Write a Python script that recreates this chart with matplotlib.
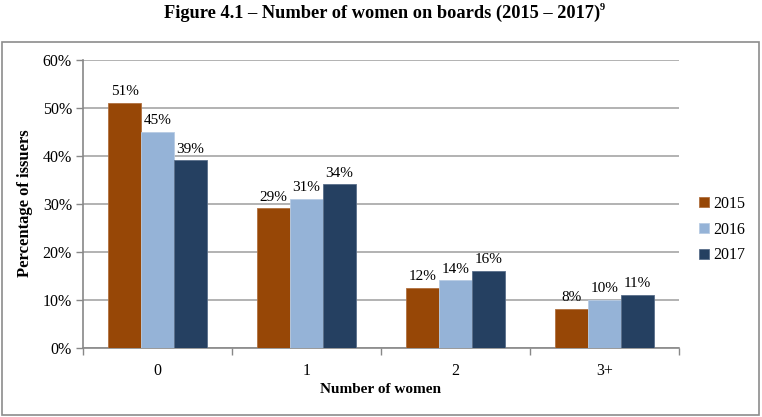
import matplotlib.pyplot as plt
import matplotlib.patches as patches
import numpy as np

categories = ['0', '1', '2', '3+']
years = ['2015', '2016', '2017']
values_2015 = [51, 29, 12.5, 8]
values_2016 = [45, 31, 14, 10]
values_2017 = [39, 34, 16, 11]
labels_2015 = ['51%', '29%', '12%', '8%']
labels_2016 = ['45%', '31%', '14%', '10%']
labels_2017 = ['39%', '34%', '16%', '11%']

colors = ['#974706', '#95b3d7', '#254061']
edges = ['#b07040', '#b8cce4', '#5a6f8a']

plt.rcParams['font.family'] = ['Liberation Serif', 'DejaVu Serif']

fig = plt.figure(figsize=(7.62, 4.17), dpi=100)
ax = fig.add_axes([83 / 762, 1 - 347.7 / 417, 596 / 762, 288.2 / 417])

x = np.arange(len(categories))
width = 0.22
series = [(values_2015, labels_2015), (values_2016, labels_2016), (values_2017, labels_2017)]
for i, (vals, labs) in enumerate(series):
    pos = x + (i - 1) * width
    ax.bar(pos, vals, width, color=colors[i], edgecolor=edges[i], linewidth=0.6,
           label=years[i], zorder=3)
    for px, v, lab in zip(pos, vals, labs):
        ax.text(px, v + 1.0, lab, ha='center', va='bottom', fontsize=11, color='black')

ax.set_xlim(-0.5, 3.5)
ax.set_ylim(0, 60)
ax.set_yticks(np.arange(0, 61, 10))
ax.set_yticklabels([f'{v}%' for v in range(0, 61, 10)], fontsize=11.5)
ax.set_xticks(x)
ax.set_xticklabels(categories, fontsize=11.5)
ax.set_xticks(np.arange(-0.5, 4, 1), minor=True)
ax.tick_params(axis='x', which='major', length=0, pad=11)
ax.tick_params(axis='x', which='minor', length=5, color='#888888', width=1)
ax.tick_params(axis='y', length=5, color='#888888', width=1, pad=3)

ax.yaxis.grid(True, color='#a6a6a6', linewidth=1.2, zorder=0)
ax.set_axisbelow(True)
for side in ['top', 'right']:
    ax.spines[side].set_visible(False)
for side in ['left', 'bottom']:
    ax.spines[side].set_color('#888888')
    ax.spines[side].set_linewidth(1.2)

ax.set_xlabel('Number of women', fontsize=11, fontweight='bold', labelpad=3)
ax.set_ylabel('Percentage of issuers', fontsize=12, fontweight='bold', labelpad=7)

ax.legend(loc='center left', bbox_to_anchor=(1.01, 0.41), frameon=False,
          fontsize=11.5, handlelength=0.6, handleheight=0.6, handletextpad=0.25,
          labelspacing=0.62)

fig.text(0.501, 0.968, 'Figure 4.1 – Number of women on boards (2015 – 2017)',
         ha='center', va='center', fontsize=13.2, fontweight='bold')
fig.text(0.787, 0.983, '9', ha='left', va='center', fontsize=7.5, fontweight='bold')

frame = patches.Rectangle((2 / 762, 2 / 417), 757 / 762, 373 / 417,
                          transform=fig.transFigure, fill=False,
                          edgecolor='#8c8c8c', linewidth=1.2)
fig.patches.append(frame)

fig.savefig('out.png', dpi=100)
